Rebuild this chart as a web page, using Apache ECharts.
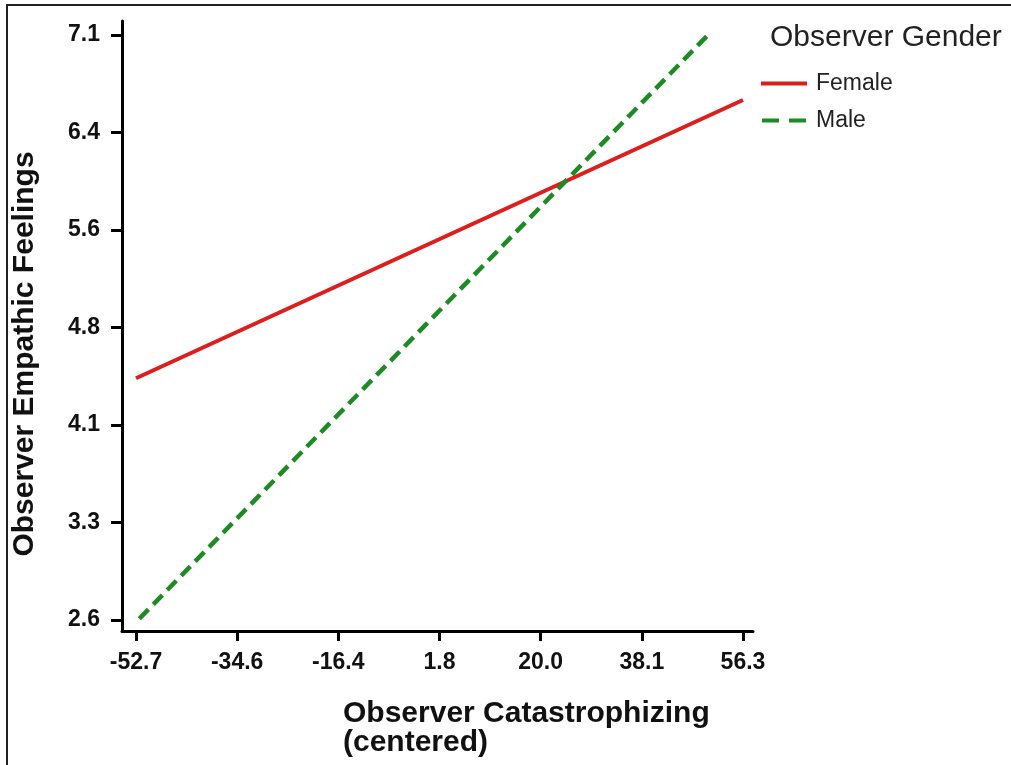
<!DOCTYPE html>
<html>
<head>
<meta charset="utf-8">
<script src="https://cdn.jsdelivr.net/npm/echarts/dist/echarts.min.js"></script>
<style>
html,body{margin:0;padding:0;background:#fff;}
#wrap{position:relative;width:1011px;height:765px;overflow:hidden;}
#chart{position:absolute;left:0;top:0;width:1011px;height:765px;}
#frame{position:absolute;left:6px;top:4px;width:1010px;height:770px;border-top:2px solid #222;border-left:2px solid #222;pointer-events:none;}
</style>
</head>
<body>
<div id="wrap"><div id="chart"></div><div id="frame"></div></div>
<script>
// ---- data ----
const xTickLabels = ['-52.7', '-34.6', '-16.4', '1.8', '20.0', '38.1', '56.3'];
const yTickLabels = ['2.6', '3.3', '4.1', '4.8', '5.6', '6.4', '7.1'];
const seriesNames = ['Female', 'Male'];
const femaleLine = [[-52.7, 4.46], [56.3, 6.60]];
const maleLine = [[-52.1, 2.61], [50.0, 7.10]];
const xTitle = 'Observer Catastrophizing\n(centered)';
const yTitle = 'Observer Empathic Feelings';
const legendTitle = 'Observer Gender';

// ---- derived axis ranges ----
const xMin = Number(xTickLabels[0]);
const xMax = Number(xTickLabels[xTickLabels.length - 1]);
const xStep = (xMax - xMin) / (xTickLabels.length - 1);
const yMin = Number(yTickLabels[0]);
const yMax = Number(yTickLabels[yTickLabels.length - 1]);
const yStep = (yMax - yMin) / (yTickLabels.length - 1);

const FONT = '"Liberation Sans", Arial, sans-serif';
const RED = '#de1d1d';
const GREEN = '#1d8a24';
const chart = echarts.init(document.getElementById('chart'), null, {renderer: 'canvas'});

const hiddenAxisBits = {
  axisTick: {show: false}, axisLabel: {show: false}, splitLine: {show: false}
};

chart.setOption({
  backgroundColor: '#ffffff',
  animation: false,
  title: [
    {
      text: xTitle, left: 343, top: 699, padding: 0,
      textStyle: {fontFamily: FONT, fontSize: 30, fontWeight: 'bold', color: '#111', lineHeight: 29}
    },
    {
      text: legendTitle, left: 770, top: 23, padding: 0,
      textStyle: {fontFamily: FONT, fontSize: 30, fontWeight: 'normal', color: '#222', lineHeight: 30}
    }
  ],
  legend: {
    orient: 'vertical', left: 761, top: 72, padding: 0,
    itemWidth: 46, itemHeight: 4, itemGap: 14,
    textStyle: {fontFamily: FONT, fontSize: 23, color: '#222', padding: [0, 0, 0, 4]},
    data: [
      {name: seriesNames[0], icon: 'rect'},
      {name: seriesNames[1], icon: 'path://M0,0H17V4H0ZM27,0H44V4H27Z'}
    ]
  },
  grid: [
    {left: 122, right: 258, top: 21, bottom: 134, outerBoundsMode: 'none', containLabel: false},
    {left: 136, right: 268, top: 35, bottom: 145, outerBoundsMode: 'none', containLabel: false}
  ],
  xAxis: [
    Object.assign({
      gridIndex: 0, type: 'value', min: 0, max: 1,
      axisLine: {show: true, onZero: false, lineStyle: {color: '#000', width: 3}}
    }, hiddenAxisBits),
    {
      gridIndex: 1, type: 'value', min: xMin, max: xMax, interval: xStep,
      offset: 11,
      axisLine: {show: false, onZero: false},
      axisTick: {show: true, length: 10, lineStyle: {color: '#000', width: 3}},
      splitLine: {show: false},
      axisLabel: {
        show: true, margin: 20, color: '#111', fontFamily: FONT, fontSize: 23, fontWeight: 'bold',
        hideOverlap: false,
        formatter: v => xTickLabels[Math.round((v - xMin) / xStep)]
      }
    }
  ],
  yAxis: [
    Object.assign({
      gridIndex: 0, type: 'value', min: 0, max: 1,
      axisLine: {show: true, onZero: false, lineStyle: {color: '#000', width: 3}},
      name: yTitle, nameLocation: 'middle', nameGap: 82, nameRotate: 90,
      nameTextStyle: {fontFamily: FONT, fontSize: 30, fontWeight: 'bold', color: '#111', padding: [0, 56, 0, 0]}
    }, hiddenAxisBits),
    {
      gridIndex: 1, type: 'value', min: yMin, max: yMax, interval: yStep,
      offset: 15,
      axisLine: {show: false, onZero: false},
      axisTick: {show: true, length: 10, lineStyle: {color: '#000', width: 3}},
      splitLine: {show: false},
      axisLabel: {
        show: true, margin: 21, color: '#111', fontFamily: FONT, fontSize: 23, fontWeight: 'bold',
        hideOverlap: false,
        formatter: v => yTickLabels[Math.round((v - yMin) / yStep)]
      }
    }
  ],
  series: [
    {
      name: seriesNames[0], type: 'line', xAxisIndex: 1, yAxisIndex: 1,
      data: femaleLine, symbol: 'none', clip: false,
      lineStyle: {color: RED, width: 4}, itemStyle: {color: RED}
    },
    {
      name: seriesNames[1], type: 'line', xAxisIndex: 1, yAxisIndex: 1,
      data: maleLine, symbol: 'none', clip: false,
      lineStyle: {color: GREEN, width: 4.5, type: [13, 7]}, itemStyle: {color: GREEN}
    }
  ]
});
</script>
</body>
</html>
